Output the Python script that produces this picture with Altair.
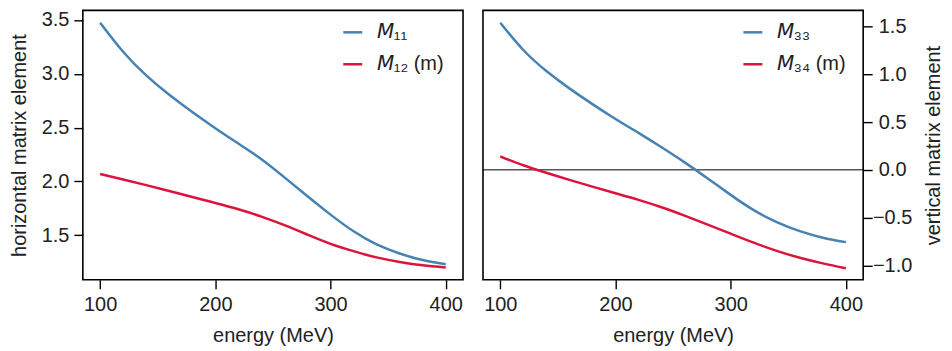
import altair as alt
import pandas as pd

# ---- data ----
energy = [100, 120, 140, 160, 180, 200, 220, 240, 260, 280, 300, 320, 340, 360, 380, 400]
m11 = [3.475, 3.205, 2.985, 2.805, 2.645, 2.495, 2.352, 2.207, 2.038, 1.862, 1.692, 1.537, 1.415, 1.331, 1.27, 1.232]
m12 = [2.069, 2.018, 1.966, 1.911, 1.856, 1.80, 1.742, 1.674, 1.594, 1.506, 1.421, 1.353, 1.295, 1.253, 1.222, 1.202]
m33 = [1.54, 1.255, 1.035, 0.853, 0.688, 0.533, 0.387, 0.236, 0.078, -0.09, -0.262, -0.422, -0.547, -0.642, -0.71, -0.757]
m34 = [0.14, 0.048, -0.030, -0.105, -0.176, -0.245, -0.314, -0.392, -0.48, -0.573, -0.668, -0.762, -0.848, -0.92, -0.979, -1.03]

left_labels = ["\U0001D614\u2081\u2081", "\U0001D614\u2081\u2082 (m)"]
right_labels = ["\U0001D614\u2083\u2083", "\U0001D614\u2083\u2084 (m)"]
x_ticks = [100, 200, 300, 400]
left_ticks = [1.5, 2.0, 2.5, 3.0, 3.5]
right_ticks = [-1.0, -0.5, 0.0, 0.5, 1.0, 1.5]
zero_line = [0.0]

FONT = "Liberation Sans"
BLUE = "#4682b4"
RED = "#dc143c"
TXT = "#222222"

left_df = pd.DataFrame({"energy": energy * 2, "value": m11 + m12,
                        "series": [left_labels[0]] * len(energy) + [left_labels[1]] * len(energy)})
right_df = pd.DataFrame({"energy": energy * 2, "value": m33 + m34,
                         "series": [right_labels[0]] * len(energy) + [right_labels[1]] * len(energy)})
zero_df = pd.DataFrame({"y": zero_line})

W, H = 381, 270
xscale = alt.Scale(domain=[85, 415], nice=False, zero=False)


def make_legend():
    return alt.Legend(orient="none", legendX=259.5, legendY=11, title=None,
                      symbolType="stroke", symbolSize=361, symbolStrokeWidth=2.5,
                      labelFontSize=20, labelFont=FONT, labelColor=TXT,
                      labelOffset=13, rowPadding=11, padding=0)


xaxis = alt.Axis(values=x_ticks, title="energy (MeV)", labelPadding=6, titlePadding=11)

lyscale = alt.Scale(domain=[1.087, 3.589], nice=False, zero=False)
left = alt.Chart(left_df).mark_line(strokeWidth=2.5, interpolate="natural").encode(
    x=alt.X("energy:Q", scale=xscale, axis=xaxis),
    y=alt.Y("value:Q", scale=lyscale,
            axis=alt.Axis(values=left_ticks, format=".1f", title="horizontal matrix element",
                          labelPadding=5, titleAngle=270, titleX=-57.5,
                          titleBaseline="alphabetic")),
    color=alt.Color("series:N", scale=alt.Scale(domain=left_labels, range=[BLUE, RED]),
                    legend=make_legend()),
).properties(width=W, height=H)

ryscale = alt.Scale(domain=[-1.151, 1.67], nice=False, zero=False)
raxis = alt.Axis(orient="right", values=right_ticks, format=".1f", title="vertical matrix element",
                 labelAlign="center", labelPadding=20, titleAngle=270,
                 titleX=76, titleBaseline="alphabetic")
right_lines = alt.Chart(right_df).mark_line(strokeWidth=2.5, interpolate="natural").encode(
    x=alt.X("energy:Q", scale=xscale, axis=xaxis),
    y=alt.Y("value:Q", scale=ryscale, axis=raxis),
    color=alt.Color("series:N", scale=alt.Scale(domain=right_labels, range=[BLUE, RED]),
                    legend=make_legend()),
)
right_zero = alt.Chart(zero_df).mark_rule(color="black", strokeWidth=1).encode(
    y=alt.Y("y:Q", scale=ryscale, axis=raxis),
)
right = alt.layer(right_zero, right_lines).properties(width=W, height=H)

chart = alt.hconcat(left, right, spacing=17).resolve_scale(
    y="independent", color="independent"
).resolve_legend(color="independent").properties(padding=0).configure_view(
    stroke="black", strokeWidth=1.6
).configure_axis(
    labelFont=FONT, titleFont=FONT, labelFontSize=20, titleFontSize=20,
    labelColor=TXT, titleColor=TXT, titleFontWeight="normal",
    tickColor="black", tickWidth=1.4, tickSize=9, domain=False, grid=False,
)

chart.save("out.html", embed_options={"renderer": "svg", "actions": False})
